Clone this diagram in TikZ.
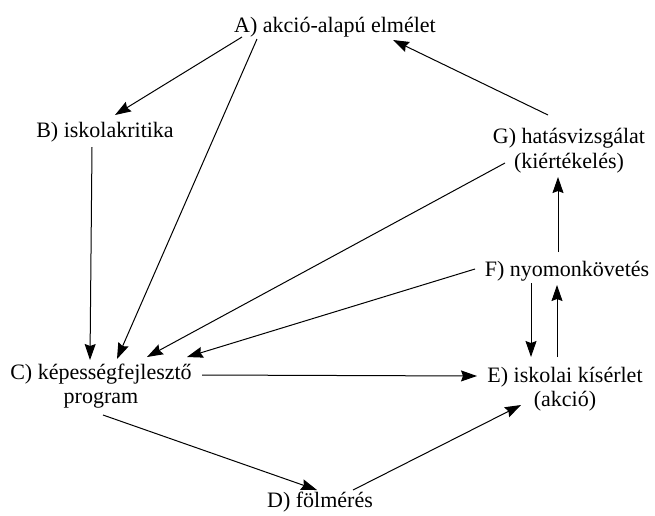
\documentclass[tikz,border=0pt]{standalone}
\usepackage{fontspec}
\setmainfont{Liberation Serif}
\usetikzlibrary{arrows.meta}
\begin{document}
\begin{tikzpicture}[x=1pt,y=-1pt,
  lbl/.style={inner sep=0pt,anchor=base,align=center,font=\fontsize{22}{24}\selectfont},
  arr/.style={line width=1pt,-{Stealth[length=16pt,width=11pt,inset=2pt]}}]
\useasboundingbox[fill=white] (0,0) rectangle (655,515);
\node[lbl] (A) at (335,32) {A) akció-alapú elmélet};
\node[lbl] (B) at (105,137) {B) iskolakritika};
\node[lbl,font=\fontsize{22}{25}\selectfont] (G) at (569,168) {G) hatásvizsgálat\\(kiértékelés)};
\node[lbl] (F) at (567,276) {F) nyomonkövetés};
\node[lbl] (C) at (101,403) {C) képességfejlesztő\\program};
\node[lbl] (E) at (565,406) {E) iskolai kísérlet\\(akció)};
\node[lbl] (D) at (320,507) {D) fölmérés};
\draw[arr] ([shift={(-93,5)}]A.base) -- ([shift={(10,-22)}]B.base);
\draw[arr] ([shift={(-78,7)}]A.base) -- ([shift={(16,-44)}]C.base);
\draw[arr] ([shift={(-21,-53)}]G.base) -- ([shift={(58,8)}]A.base);
\draw[arr] ([shift={(-13,10)}]B.base) -- ([shift={(-11,-43)}]C.base);
\draw[arr] ([shift={(-64,-5)}]G.base) -- ([shift={(46,-46)}]C.base);
\draw[arr] ([shift={(-9,-24)}]F.base) -- ([shift={(-11,9)}]G.base);
\draw[arr] ([shift={(-92,-7)}]F.base) -- ([shift={(86,-46)}]C.base);
\draw[arr] ([shift={(-36,7)}]F.base) -- ([shift={(-34,-49)}]E.base);
\draw[arr] ([shift={(-8,-49)}]E.base) -- ([shift={(-10,9)}]F.base);
\draw[arr] ([shift={(101,-28)}]C.base) -- ([shift={(-88,-30)}]E.base);
\draw[arr] ([shift={(2,12)}]C.base) -- ([shift={(-3,-17)}]D.base);
\draw[arr] ([shift={(33,-17)}]D.base) -- ([shift={(-44,-1)}]E.base);
\end{tikzpicture}
\end{document}
